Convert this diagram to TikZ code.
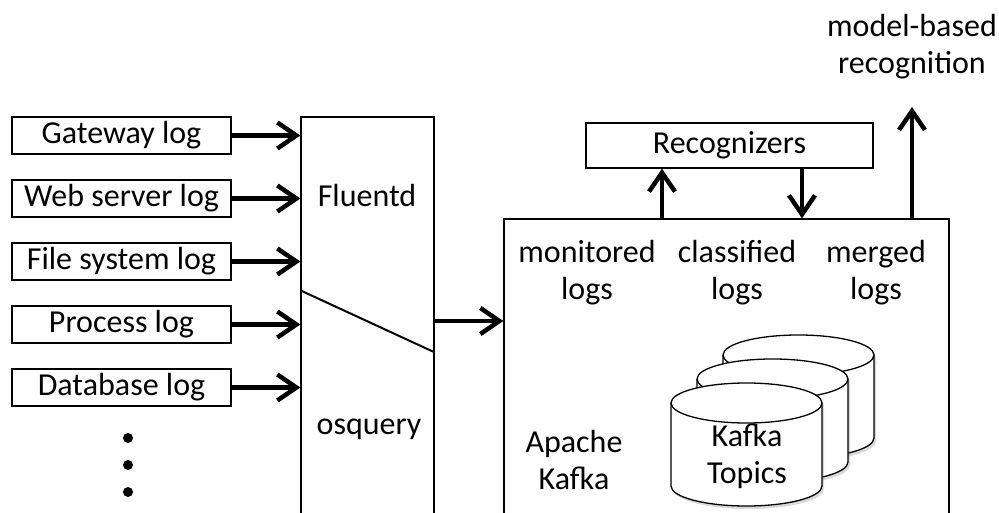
\documentclass[tikz,border=0pt]{standalone}
\usepackage{fontspec}
\setmainfont{Carlito}
\usetikzlibrary{arrows.meta,positioning,shadows,calc}
\tikzset{>={Straight Barb[length=19pt,width=26pt]},
    logbox/.style={draw, line width=1.3pt, minimum width=219pt, minimum height=37pt, inner sep=0pt},
    stage/.style={draw, line width=1.3pt, inner sep=0pt},
    flow/.style={->, line width=4.5pt},
    disk/.style={fill=white, line width=1.3pt, drop shadow={shadow xshift=2pt, shadow yshift=-3pt, opacity=.3}}}

\begin{document}
\begin{tikzpicture}[x=1pt, y=1pt, font=\fontsize{32}{37}\selectfont]
    \useasboundingbox (0,0) rectangle (999,-513);
    \foreach[count=\i] \src in {Gateway log,Web server log,File system log,Process log,Database log} {
        \node[logbox] (log-\i) at (121.5,{-135.5-63*(\i-1)}) {\src};
    }
    \foreach \j in {1,2,3} {
        \node[circle, fill, minimum size=10pt, inner sep=0pt] (dot-\j) at (128,{-438-27*(\j-1)}) {};
    }

    \node[stage, minimum width=133pt, minimum height=443pt] (collector) at (367.5,-338.5) {};
    \node[anchor=base] (fluentd) at (367,-207) {Fluentd};
    \node[anchor=base] (osquery) at (369,-434) {osquery};
    \draw[line width=2pt] ($(collector.north west)+(0,-174)$) -- ($(collector.north east)+(0,-236)$);
    \foreach \i in {1,...,5} {
        \draw[flow] (log-\i) -- (log-\i -| collector.west);
    }

    \node[stage, minimum width=445pt, minimum height=341pt] (kafka) at (726.5,-389.5) {};
    \coordinate (feed) at (0,-321);
    \draw[flow] (collector.east |- feed) -- (kafka.west |- feed);

    \node[stage, minimum width=287pt, minimum height=45pt] (recog) at (729.5,-145.5) {Recognizers};
    \coordinate (mon) at ([xshift=-64.5pt]kafka.north);
    \coordinate (cls) at ([xshift=75.5pt]kafka.north);
    \coordinate (mrg) at ([xshift=185.5pt]kafka.north);
    \coordinate (out) at (912,-107);
    \draw[flow] (mon) -- (mon |- recog.south);
    \draw[flow] (cls |- recog.south) -- (cls);
    \draw[flow] (mrg) -- (out);
    \node[align=center] (result) at (912,-47) {model-based\\recognition};

    \node[align=center] (monitored) at (587,-272.5) {monitored\\logs};
    \node[align=center] (classified) at (737,-272.5) {classified\\logs};
    \node[align=center] (merged) at (876,-272.5) {merged\\logs};
    \node[align=center] (apache) at (574,-460) {Apache\\Kafka};

    % topic disks, back to front
    \foreach \k in {2,1,0} {
        \begin{scope}[shift={(26*\k,24*\k)}]
        \filldraw[disk] (671,-403) -- (671,-486) arc[start angle=180, end angle=360, x radius=75.5pt, y radius=20pt]
            -- (822,-403) arc[start angle=0, end angle=180, x radius=75.5pt, y radius=20pt] -- cycle;
        \draw[line width=1.3pt] (671,-403) arc[start angle=180, end angle=360, x radius=75.5pt, y radius=20pt];
        \end{scope}
    }
    \node[align=center] (topics) at (747,-456) {Kafka\\Topics};
\end{tikzpicture}
\end{document}
